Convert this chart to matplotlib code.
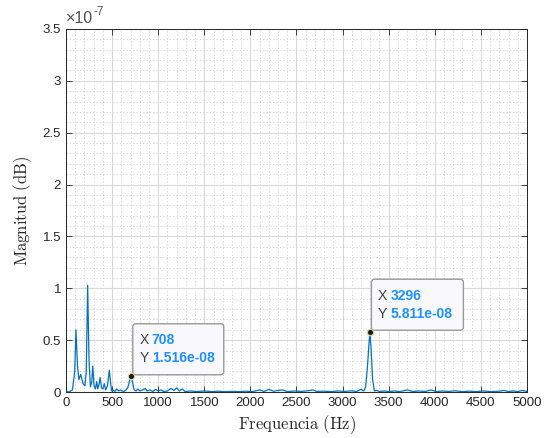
import matplotlib
matplotlib.use("Agg")
import matplotlib.pyplot as plt
import matplotlib.transforms as mtransforms
from matplotlib.patches import FancyBboxPatch
from matplotlib.ticker import MultipleLocator, FuncFormatter
import numpy as np

# Spectrum (frequency in Hz, magnitude in units of 1e-7)
freq = [0, 40, 70, 95, 108, 125, 140, 160, 185, 205, 220, 235, 250, 265, 280, 290, 305,
        320, 333, 345, 360, 370, 385, 400, 416, 430, 450, 470, 485, 495, 510, 530, 550,
        570, 590, 610, 630, 650, 670, 690, 708, 725, 740, 760, 780, 800, 830, 860, 880,
        910, 940, 970, 1000, 1030, 1060, 1100, 1140, 1170, 1200, 1230, 1260, 1290, 1350,
        1420, 1500, 1580, 1650, 1720, 1800, 1880, 1950, 2020, 2100, 2150, 2200, 2250,
        2300, 2350, 2400, 2480, 2550, 2620, 2680, 2720, 2800, 2880, 2950, 3020, 3100,
        3150, 3200, 3230, 3250, 3270, 3285, 3296, 3310, 3325, 3345, 3370, 3400, 3450,
        3500, 3560, 3620, 3700, 3760, 3820, 3900, 3960, 4020, 4080, 4150, 4220, 4300,
        4380, 4450, 4520, 4600, 4680, 4750, 4800, 4850, 4900, 4950, 5000]
mag = [0.0, 0.005, 0.02, 0.2, 0.60, 0.25, 0.12, 0.17, 0.08, 0.06, 0.2, 1.03, 0.3, 0.05,
       0.1, 0.25, 0.06, 0.03, 0.1, 0.03, 0.08, 0.14, 0.04, 0.03, 0.08, 0.02, 0.06, 0.21,
       0.08, 0.01, 0.02, 0.005, 0.03, 0.01, 0.02, 0.01, 0.005, 0.02, 0.04, 0.11, 0.1516,
       0.08, 0.02, 0.01, 0.03, 0.01, 0.02, 0.035, 0.01, 0.02, 0.005, 0.025, 0.01, 0.02,
       0.005, 0.01, 0.035, 0.015, 0.04, 0.01, 0.03, 0.005, 0.01, 0.005, 0.01, 0.004,
       0.008, 0.003, 0.006, 0.004, 0.008, 0.003, 0.02, 0.005, 0.025, 0.008, 0.015, 0.02,
       0.004, 0.01, 0.006, 0.012, 0.02, 0.006, 0.008, 0.004, 0.01, 0.006, 0.012, 0.005,
       0.025, 0.01, 0.05, 0.25, 0.45, 0.5811, 0.4, 0.12, 0.01, 0.015, 0.005, 0.01, 0.005,
       0.01, 0.004, 0.02, 0.005, 0.01, 0.006, 0.02, 0.004, 0.01, 0.006, 0.012, 0.004,
       0.008, 0.004, 0.01, 0.005, 0.006, 0.015, 0.005, 0.01, 0.004, 0.015, 0.005]

tips_x = [708, 3296]
tips_y = [1.516e-08, 5.811e-08]
tips_xlabel = ["708", "3296"]
tips_ylabel = ["1.516e-08", "5.811e-08"]

plt.rcParams['mathtext.fontset'] = 'cm'
plt.rcParams['font.family'] = ['Liberation Sans', 'DejaVu Sans']

fig = plt.figure(figsize=(5.48, 4.38), dpi=100)
ax = fig.add_axes([0.1204, 0.105, 0.8413, 0.8288])

ax.plot(freq, np.array(mag) * 1e-7, color='#0072BD', lw=0.9)

ax.set_xlim(0, 5000)
ax.set_ylim(0, 3.5e-7)
ax.xaxis.set_major_locator(MultipleLocator(500))
ax.xaxis.set_minor_locator(MultipleLocator(100))
ax.yaxis.set_major_locator(MultipleLocator(0.5e-7))
ax.yaxis.set_minor_locator(MultipleLocator(0.1e-7))
ax.yaxis.set_major_formatter(FuncFormatter(lambda v, p: f"{v/1e-7:g}"))

ax.grid(which='major', color='#d9d9d9', lw=0.8, ls='-')
ax.grid(which='minor', color='#d0d0d0', lw=0.6, ls=(0, (1.5, 2.5)))
ax.set_axisbelow(True)

ax.tick_params(which='both', direction='in', top=True, right=True, colors='#262626',
               labelsize=9.5)
ax.tick_params(which='major', length=4, width=0.6)
ax.tick_params(which='minor', length=0)
for s in ax.spines.values():
    s.set_color('#262626')
    s.set_linewidth(0.7)

ax.set_xlabel(r'$\mathrm{Frequencia\ (Hz)}$', fontsize=12, color='#262626', labelpad=3)
ax.set_ylabel(r'$\mathrm{Magnitud\ (dB)}$', fontsize=12, color='#262626', labelpad=6)

# MATLAB-style exponent label
ax.text(0.0, 1.008, '\u00d710', transform=ax.transAxes, fontsize=11.5,
        color='#505050', ha='left', va='bottom')
ax.text(0.0, 1.008, '-7', transform=mtransforms.offset_copy(ax.transAxes, fig=fig,
        x=20, y=6, units='points'), fontsize=8.5, color='#505050', ha='left', va='bottom')

# data tips
for x, y, xl, yl in zip(tips_x, tips_y, tips_xlabel, tips_ylabel):
    trans = fig.dpi_scale_trans + mtransforms.ScaledTranslation(x, y, ax.transData)
    w = 0.91 if len(xl) == 3 else 0.92
    box = FancyBboxPatch((0.015, 0.015), w, 0.51, boxstyle='round,pad=0,rounding_size=0.03',
                         transform=trans, facecolor='#f9f9fd', edgecolor='#9a9a9a',
                         lw=1.0, clip_on=False, zorder=5)
    ax.add_patch(box)
    ax.text(0.08, 0.36, 'X', transform=trans, fontsize=10, color='#404040',
            va='center', ha='left', zorder=6)
    ax.text(0.08, 0.18, 'Y', transform=trans, fontsize=10, color='#404040',
            va='center', ha='left', zorder=6)
    ax.text(0.205, 0.36, xl, transform=trans, fontsize=10, color='#1e90ff',
            fontweight='bold', va='center', ha='left', zorder=6)
    ax.text(0.205, 0.18, yl, transform=trans, fontsize=10, color='#1e90ff',
            fontweight='bold', va='center', ha='left', zorder=6)
    ax.plot([x], [y], 'o', ms=4.5, mfc='#1a1a1a', mec='#d8d8a0', mew=0.8, zorder=7,
            clip_on=False)

fig.savefig('out.png', dpi=100)
